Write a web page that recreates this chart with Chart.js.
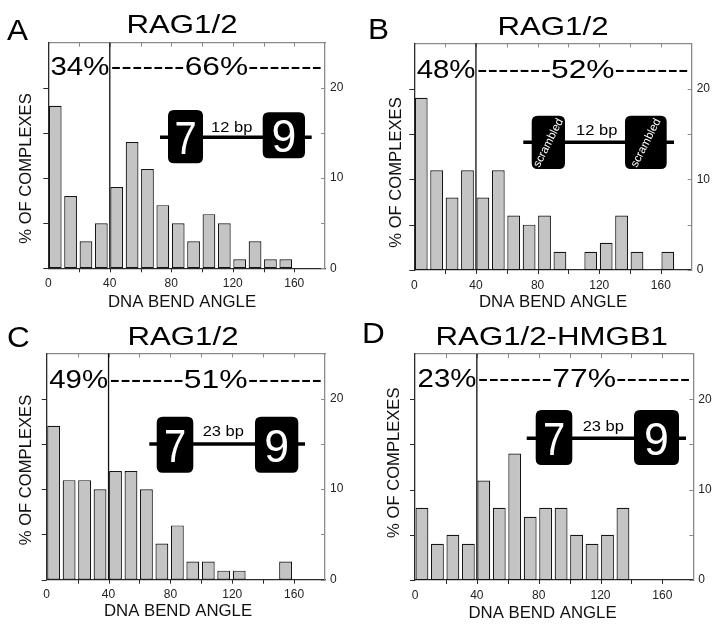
<!DOCTYPE html>
<html><head><meta charset="utf-8">
<script src="https://cdn.jsdelivr.net/npm/chart.js@4"></script>
<style>
html,body{margin:0;padding:0;background:#fff;}
#wrap{position:relative;width:720px;height:627px;overflow:hidden;}
canvas{position:absolute;}
</style></head><body>
<div id="wrap">
<canvas id="cA" width="360" height="313" style="left:0;top:0"></canvas>
<canvas id="cB" width="360" height="313" style="left:360px;top:0"></canvas>
<canvas id="cC" width="360" height="314" style="left:0;top:313px"></canvas>
<canvas id="cD" width="360" height="314" style="left:360px;top:313px"></canvas>
</div>
<script>
// ---- data ----
const bins = [0,10,20,30,40,50,60,70,80,90,100,110,120,130,140,150,160,170];
const valuesA = [18,8,3,5,9,14,11,7,5,3,6,5,1,3,1,1,null,null];
const valuesB = [19,11,8,11,8,11,6,5,6,2,null,2,3,6,2,null,2,null];
const valuesC = [17,11,11,10,12,12,10,4,6,2,2,1,1,null,null,2,null,null];
const valuesD = [8,4,5,4,11,8,14,7,8,8,5,4,5,8,null,null,null,null];
const xTickLabels = [0,40,80,120,160];
const yTickLabels = [0,10,20];
const panelLetters = ['A','B','C','D'];
const panelTitles = ['RAG1/2','RAG1/2','RAG1/2','RAG1/2-HMGB1'];
const leftShares = ['34%','48%','49%','23%'];
const rightShares = ['66%','52%','51%','77%'];
const spacers = ['12 bp','12 bp','23 bp','23 bp'];
const motifLeft = ['7','scrambled','7','7'];
const motifRight = ['9','scrambled','9','9'];
const splitAngle = 40;
const xAxisTitle = 'DNA BEND ANGLE';
const yAxisTitle = '% OF COMPLEXES';
const seriesList = [valuesA, valuesB, valuesC, valuesD];
const canvasIds = ['cA','cB','cC','cD'];

// ---- style / layout ----
const FONT = '"Liberation Sans", Arial, Helvetica, sans-serif';
const DARK = '#2a2a2a', GRAY = '#8a8a8a';
const BAR_FILL = '#c4c4c4', BAR_EDGE = '#151515';
const barOffset = 4.5;
const layouts = [
 {area:[48.3,42.7,325,268.3], letter:[7,40], title:[182,33.3], ytitle:[25,168.5], xtitle:[182,306.7], pctY:32.5,
  line:[160,311.7,137.3], box1:[168,110,35,53.3], box2:[262.7,112.3,42.3,46], label:[231.7,131.7]},
 {area:[54.3,43.3,331.7,270], letter:[8,39.3], title:[193,35], ytitle:[34.5,172.5], xtitle:[193,307], pctY:35,
  line:[163.3,314,142.3], box1:[171.7,115.7,33.3,53.3], box2:[265,115.7,41.7,53.3], label:[236.7,135]},
 {area:[46.7,40.4,325,266.7], letter:[7,33.7], title:[183,32], ytitle:[25,157], xtitle:[178,303], pctY:35,
  line:[149.3,305,131], box1:[156.7,103.7,36.6,56], box2:[255,103.7,43.3,56], label:[223.3,123]},
 {area:[55,41,333.3,267], letter:[2,30.3], title:[191.7,32], ytitle:[32.5,149.7], xtitle:[182.5,305], pctY:33,
  line:[166.7,326,125.3], box1:[175.7,97,36.6,55], box2:[274,97,45,55], label:[243.3,118]}
];

function txt(ctx, text, x, y, size, align, sx, color, rot) {
  ctx.save();
  ctx.font = size + 'px ' + FONT;
  ctx.fillStyle = color || '#000';
  ctx.textAlign = align;
  ctx.textBaseline = 'alphabetic';
  ctx.translate(x, y);
  if (rot) ctx.rotate(rot);
  ctx.scale(sx, 1);
  ctx.fillText(text, 0, 0);
  ctx.restore();
}
function rrect(ctx, x, y, w, h, r) {
  ctx.beginPath();
  ctx.moveTo(x + r, y);
  ctx.lineTo(x + w - r, y); ctx.quadraticCurveTo(x + w, y, x + w, y + r);
  ctx.lineTo(x + w, y + h - r); ctx.quadraticCurveTo(x + w, y + h, x + w - r, y + h);
  ctx.lineTo(x + r, y + h); ctx.quadraticCurveTo(x, y + h, x, y + h - r);
  ctx.lineTo(x, y + r); ctx.quadraticCurveTo(x, y, x + r, y);
  ctx.closePath();
}
function motif(ctx, label, b) {
  const [x, y, w, h] = b;
  ctx.fillStyle = '#000';
  rrect(ctx, x, y, w, h, 6);
  ctx.fill();
  if (label === 'scrambled') {
    txt(ctx, label, x + w / 2 + 3, y + h / 2 + 2, 11.5, 'center', 1, '#fff', -1.1);
  } else {
    txt(ctx, label, x + w / 2, y + h / 2 + 17, 47, 'center', label === '7' ? 0.85 : 0.95, '#fff');
  }
}
function line(ctx, x1, y1, x2, y2) { ctx.beginPath(); ctx.moveTo(x1, y1); ctx.lineTo(x2, y2); ctx.stroke(); }

function decor(i) {
  const L = layouts[i];
  return {
    id: 'decor' + i,
    afterDatasetsDraw(chart) {
      const ctx = chart.ctx, a = chart.chartArea, xs = chart.scales.x, ys = chart.scales.y;
      // tick marks
      ctx.save();
      ctx.lineWidth = 1;
      for (let v = 0; v <= 20; v += 5) {
        const py = Math.round(ys.getPixelForValue(v)) + 0.5;
        ctx.strokeStyle = DARK; line(ctx, a.left - 5, py, a.left, py);
        ctx.strokeStyle = GRAY; line(ctx, a.right - 4, py, a.right, py);
      }
      for (let v = 20; v <= 160; v += 20) {
        const px = Math.round(xs.getPixelForValue(v)) + 0.5;
        ctx.strokeStyle = DARK; line(ctx, px, a.bottom, px, a.bottom + 4);
        ctx.strokeStyle = GRAY; line(ctx, px, a.top, px, a.top + 4);
      }
      // split line
      const sx = xs.getPixelForValue(splitAngle);
      ctx.strokeStyle = '#111'; ctx.lineWidth = 1.3;
      line(ctx, sx, a.top, sx, a.bottom);
      ctx.restore();
      // percentages
      const py = a.top + L.pctY;
      txt(ctx, leftShares[i], sx - 0.5, py, 26, 'right', 1.13, '#000');
      const rs = '-------' + rightShares[i] + '-------';
      ctx.save(); ctx.font = '26px ' + FONT;
      const nat = ctx.measureText(rs).width; ctx.restore();
      const fit = (a.right - 3 - (sx + 1)) / nat;
      txt(ctx, rs, sx + 1, py, 26, 'left', fit, '#000');
      // titles
      txt(ctx, panelLetters[i], L.letter[0], L.letter[1], 30, 'left', 1.05, '#000');
      txt(ctx, panelTitles[i], L.title[0], L.title[1], 26, 'center', 1.2, '#000');
      txt(ctx, xAxisTitle, L.xtitle[0], L.xtitle[1], 16.3, 'center', 1.03, '#111');
      txt(ctx, yAxisTitle, L.ytitle[0] + 6, L.ytitle[1], 16.3, 'center', 1.02, '#111', -Math.PI / 2);
      // diagram
      ctx.save();
      ctx.strokeStyle = '#000'; ctx.lineWidth = 3.5;
      line(ctx, L.line[0], L.line[2], L.line[1], L.line[2]);
      ctx.restore();
      motif(ctx, motifLeft[i], L.box1);
      motif(ctx, motifRight[i], L.box2);
      txt(ctx, spacers[i], L.label[0], L.label[1], 15, 'center', 1.1, '#000');
    }
  };
}

function makeChart(i) {
  const L = layouts[i];
  const cv = document.getElementById(canvasIds[i]);
  const W = cv.width, H = cv.height;
  const [al, at, ar, ab] = L.area;
  const data = [];
  bins.forEach((b, k) => {
    const v = seriesList[i][k];
    if (v !== null) data.push({ x: b + barOffset, y: v });
  });
  const noGrid = { display: false, drawTicks: false };
  new Chart(cv, {
    type: 'bar',
    data: { datasets: [{
      data, backgroundColor: BAR_FILL, borderColor: BAR_EDGE, borderWidth: 1.2,
      borderSkipped: false, barPercentage: 0.83, categoryPercentage: 1,
      xAxisID: 'x', yAxisID: 'y'
    }] },
    options: {
      responsive: false, animation: false, devicePixelRatio: 1,
      layout: { padding: 0 },
      plugins: { legend: { display: false }, tooltip: { enabled: false }, title: { display: false } },
      scales: {
        x: { type: 'linear', position: 'bottom', min: 0, max: 180, offset: false, grid: noGrid,
             border: { display: true, color: DARK, width: 1.3 },
             ticks: { padding: 8, color: '#222', font: { family: FONT, size: 12 }, maxRotation: 0, minRotation: 0, autoSkip: false,
                      callback: v => String(v) },
             afterBuildTicks: s => { s.ticks = xTickLabels.map(v => ({ value: v })); },
             afterFit: s => { s.height = H - ab; } },
        x2: { type: 'linear', position: 'top', min: 0, max: 180, offset: false, display: true, grid: noGrid,
              border: { display: true, color: GRAY, width: 1.3 }, ticks: { display: false },
              afterFit: s => { s.height = at; } },
        y: { type: 'linear', position: 'left', min: 0, max: 25, grid: noGrid,
             border: { display: true, color: DARK, width: 1.3 }, ticks: { display: false },
             afterFit: s => { s.width = al; } },
        y2: { type: 'linear', position: 'right', min: 0, max: 25, display: true, grid: noGrid,
              border: { display: true, color: GRAY, width: 1.3 },
              ticks: { padding: 5, color: '#222', font: { family: FONT, size: 12 }, callback: v => String(v) },
              afterBuildTicks: s => { s.ticks = yTickLabels.map(v => ({ value: v })); },
              afterFit: s => { s.width = W - ar; } }
      }
    },
    plugins: [decor(i)]
  });
}
[0,1,2,3].forEach(makeChart);
</script>
</body></html>
